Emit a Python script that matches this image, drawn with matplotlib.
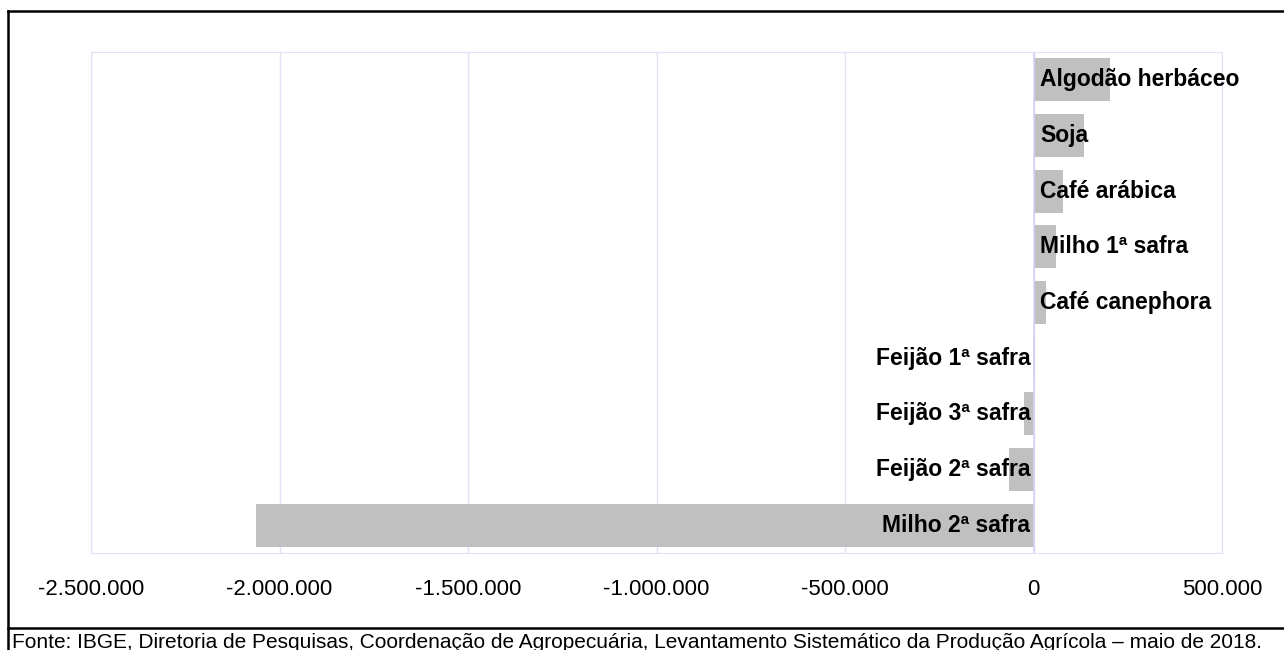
import matplotlib.pyplot as plt
from matplotlib.lines import Line2D
from matplotlib.ticker import FuncFormatter

plt.rcParams['font.family'] = ['Liberation Sans', 'DejaVu Sans']

# Culturas (de cima para baixo) e variação (toneladas)
culturas = ['Algodão herbáceo', 'Soja', 'Café arábica', 'Milho 1ª safra',
            'Café canephora', 'Feijão 1ª safra', 'Feijão 3ª safra',
            'Feijão 2ª safra', 'Milho 2ª safra']
variacao = [204000, 133000, 77000, 61000, 34000, -2000, -26000, -66000, -2062000]
xticks = [-2500000, -2000000, -1500000, -1000000, -500000, 0, 500000]

fonte = ('Fonte: IBGE, Diretoria de Pesquisas, Coordenação de Agropecuária, '
         'Levantamento Sistemático da Produção Agrícola – maio de 2018.')

fig = plt.figure(figsize=(12.84, 6.5), dpi=100)
ax = fig.add_axes([91 / 1284, 1 - 553 / 650, (1222 - 91) / 1284, (553 - 52) / 650])

pos = list(range(len(culturas)))
ax.barh(pos, variacao, height=0.77, color='#c0c0c0', zorder=2)
ax.set_ylim(len(culturas) - 0.5, -0.5)
ax.set_xlim(-2500000, 500000)
ax.set_xticks(xticks)
ax.xaxis.set_major_formatter(FuncFormatter(lambda v, p: f'{v:,.0f}'.replace(',', '.')))
ax.tick_params(axis='x', length=0, pad=19, labelsize=16)
ax.set_yticks([])
ax.grid(axis='x', color='#e2e2f6', lw=1, zorder=0)
ax.axvline(0, color='#d4d4f4', lw=1.2, zorder=3)
for s in ax.spines.values():
    s.set_color('#e2e2f6')

# rótulos das categorias junto ao eixo zero
for p, nome, v in zip(pos, culturas, variacao):
    if v >= 0:
        ax.text(17000, p, nome, ha='left', va='center', fontsize=16.5,
                fontweight='bold', zorder=4)
    else:
        ax.text(-8000, p, nome, ha='right', va='center', fontsize=16.5,
                fontweight='bold', zorder=4)

# moldura da figura
fig.add_artist(Line2D([8 / 1284, 8 / 1284], [0, 1 - 11 / 650], color='black', lw=1.8))
fig.add_artist(Line2D([8 / 1284, 1], [1 - 11 / 650, 1 - 11 / 650], color='black', lw=1.8))
fig.add_artist(Line2D([8 / 1284, 1], [1 - 628 / 650, 1 - 628 / 650], color='black', lw=1.8))

fig.text(12 / 1284, 1 - 633 / 650, fonte, ha='left', va='top', fontsize=15)

fig.savefig('out.png', dpi=100)
